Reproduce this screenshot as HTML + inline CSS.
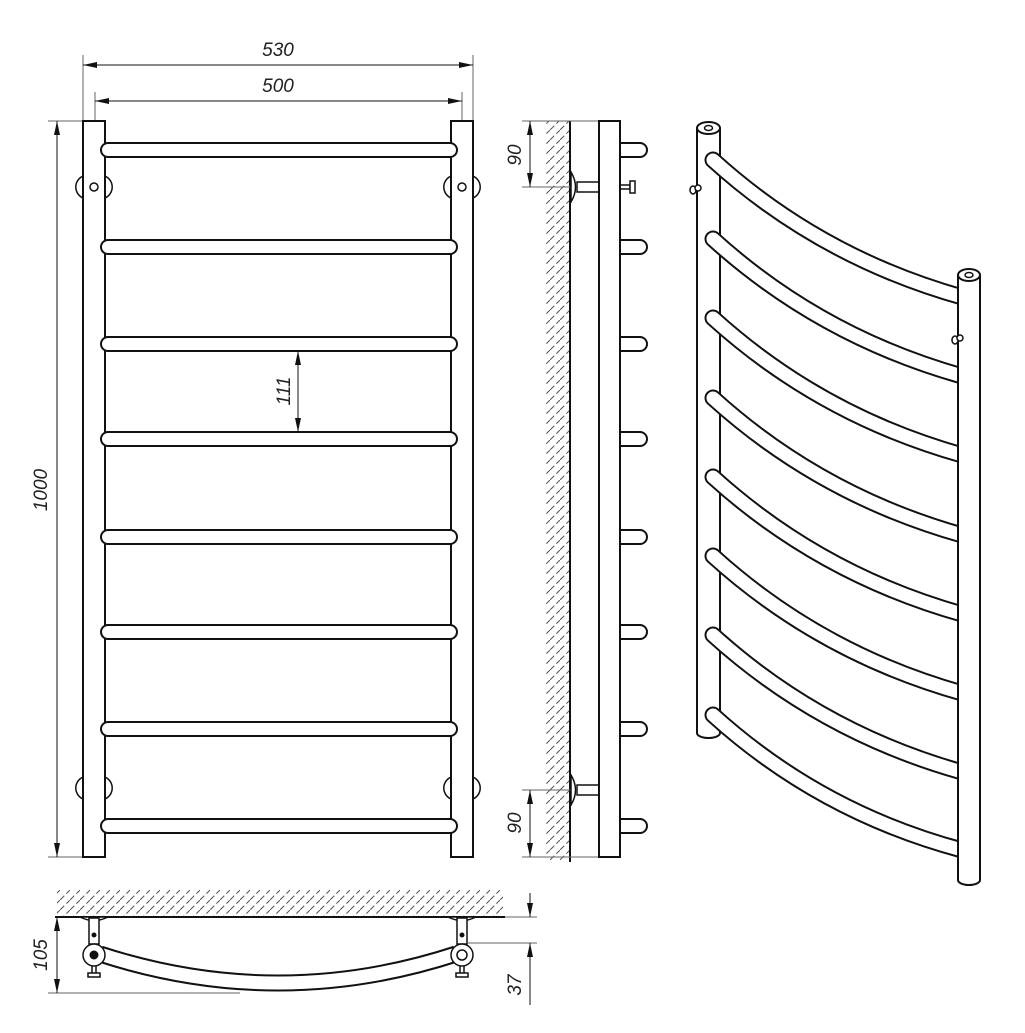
<!DOCTYPE html>
<html><head><meta charset="utf-8"><style>
html,body{margin:0;padding:0;background:#fff}
svg{display:block}
text{font-family:"Liberation Sans",sans-serif;font-style:italic;font-size:19px;fill:#222}
</style></head><body>
<svg width="1025" height="1033" viewBox="0 0 1025 1033" xmlns="http://www.w3.org/2000/svg">
<defs>
<pattern id="h" width="10" height="10" patternUnits="userSpaceOnUse" patternTransform="rotate(0)">
<path d="M0 10 L10 0" stroke="#555" stroke-width="1" stroke-dasharray="6 3"/>
</pattern>
<marker id="a" markerWidth="14" markerHeight="8" refX="14" refY="4" orient="auto" markerUnits="userSpaceOnUse"><path d="M0 1 L14 4 L0 7 Z" fill="#111"/></marker>
<marker id="b" markerWidth="14" markerHeight="8" refX="0" refY="4" orient="auto" markerUnits="userSpaceOnUse"><path d="M14 1 L0 4 L14 7 Z" fill="#111"/></marker>
</defs>
<g stroke="#111" fill="none">
<!-- FRONT VIEW dims -->
<g stroke="#666" stroke-width="1">
<line x1="83" y1="55" x2="83" y2="121"/><line x1="473" y1="55" x2="473" y2="121"/>
<line x1="95" y1="92" x2="95" y2="121"/><line x1="462" y1="92" x2="462" y2="121"/>
<line x1="48" y1="121" x2="83" y2="121"/><line x1="48" y1="857" x2="83" y2="857"/>
</g>
<line x1="83" y1="65" x2="473" y2="65" stroke-width="1" marker-start="url(#b)" marker-end="url(#a)"/>
<line x1="95" y1="101" x2="462" y2="101" stroke-width="1" marker-start="url(#b)" marker-end="url(#a)"/>
<line x1="57" y1="121" x2="57" y2="857" stroke-width="1" marker-start="url(#b)" marker-end="url(#a)"/>
<line x1="298" y1="351" x2="298" y2="432" stroke-width="1" marker-start="url(#b)" marker-end="url(#a)"/>
<!-- posts -->
<rect x="83" y="121" width="22" height="736" fill="#fff" stroke-width="2"/>
<rect x="451" y="121" width="22" height="736" fill="#fff" stroke-width="2"/>
<!-- brackets -->
<g stroke-width="1.5">
<path d="M83 176 A12 12 0 0 0 83 198"/><path d="M105 176 A12 12 0 0 1 105 198"/>
<path d="M451 176 A12 12 0 0 0 451 198"/><path d="M473 176 A12 12 0 0 1 473 198"/>
<path d="M83 777 A12 12 0 0 0 83 799"/><path d="M105 777 A12 12 0 0 1 105 799"/>
<path d="M451 777 A12 12 0 0 0 451 799"/><path d="M473 777 A12 12 0 0 1 473 799"/>
<circle cx="94" cy="187" r="4"/><circle cx="462" cy="187" r="4"/>
</g>
<!-- rungs -->
<g stroke-linecap="round">
<g stroke="#111" stroke-width="16">
<path d="M108 150H450M108 247H450M108 344H450M108 439H450M108 537H450M108 632H450M108 729H450M108 826H450"/>
</g>
<g stroke="#fff" stroke-width="12">
<path d="M108 150H450M108 247H450M108 344H450M108 439H450M108 537H450M108 632H450M108 729H450M108 826H450"/>
</g>
</g>

<!-- SIDE VIEW -->
<rect x="545" y="121" width="25" height="739" fill="url(#h)" stroke="none"/>
<line x1="570" y1="121" x2="570" y2="862" stroke-width="2"/>
<g stroke="#666" stroke-width="1">
<line x1="522" y1="121" x2="599" y2="121"/><line x1="522" y1="187" x2="575" y2="187"/>
<line x1="522" y1="790" x2="575" y2="790"/><line x1="522" y1="857" x2="599" y2="857"/>
</g>
<line x1="530" y1="121" x2="530" y2="187" stroke-width="1" marker-start="url(#b)" marker-end="url(#a)"/>
<line x1="530" y1="790" x2="530" y2="857" stroke-width="1" marker-start="url(#b)" marker-end="url(#a)"/>
<g stroke-width="1.5" fill="#fff">
<path d="M571 172 Q580 187 571 202Z"/><rect x="577" y="182" width="22" height="10"/>
<path d="M571 775 Q580 790 571 805Z"/><rect x="577" y="785" width="22" height="10"/>
<rect x="620" y="185" width="10" height="4"/><rect x="630" y="181" width="5" height="12"/>
</g>
<g stroke-linecap="round">
<g stroke="#111" stroke-width="16"><path d="M618 150H640M618 247H640M618 344H640M618 439H640M618 537H640M618 632H640M618 729H640M618 826H640"/></g>
<g stroke="#fff" stroke-width="12"><path d="M618 150H640M618 247H640M618 344H640M618 439H640M618 537H640M618 632H640M618 729H640M618 826H640"/></g>
</g>
<rect x="599" y="121" width="21" height="736" fill="#fff" stroke-width="2"/>

<!-- BOTTOM VIEW -->
<rect x="57" y="890" width="446" height="27" fill="url(#h)" stroke="none"/>
<line x1="55" y1="917" x2="505" y2="917" stroke-width="2"/>
<g stroke="#666" stroke-width="1">
<line x1="505" y1="917" x2="537" y2="917"/><line x1="468" y1="943" x2="537" y2="943"/>
<line x1="48" y1="993" x2="240" y2="993"/>
</g>
<line x1="57" y1="917" x2="57" y2="993" stroke-width="1" marker-start="url(#b)" marker-end="url(#a)"/>
<line x1="530" y1="893" x2="530" y2="917" stroke-width="1" marker-end="url(#a)"/>
<line x1="530" y1="1005" x2="530" y2="943" stroke-width="1" marker-end="url(#a)"/>
<g stroke-linecap="butt">
<path d="M100 954 Q278 1012 456 954" stroke="#111" stroke-width="17"/>
<path d="M100 954 Q278 1012 456 954" stroke="#fff" stroke-width="13"/>
</g>
<g stroke-width="1.5" fill="#fff">
<path d="M80 917 Q94 924 108 917Z"/><path d="M448 917 Q462 924 476 917Z"/>
<rect x="89" y="918" width="10" height="26"/><rect x="457" y="918" width="10" height="26"/>
<rect x="92" y="964" width="4" height="10"/><rect x="88" y="973" width="12" height="4"/>
<rect x="460" y="964" width="4" height="10"/><rect x="456" y="973" width="12" height="4"/>
<circle cx="94" cy="955" r="11"/><circle cx="462" cy="955" r="11"/>
<circle cx="462" cy="955" r="5"/>
</g>
<circle cx="94" cy="955" r="4" fill="#111"/>
<circle cx="94" cy="935" r="2" fill="#111"/><circle cx="462" cy="935" r="2" fill="#111"/>

<!-- PERSPECTIVE VIEW -->
<path d="M697 128 V733 A11.5 5 0 0 0 720 733 V128" fill="#fff" stroke-width="2"/>
<ellipse cx="708.5" cy="128" rx="11.5" ry="6" fill="#fff" stroke-width="2"/>
<ellipse cx="708.5" cy="128" rx="4" ry="2.5" stroke-width="1.5"/>
<g stroke-width="1.5" fill="#fff"><ellipse cx="693" cy="190" rx="3" ry="4"/><ellipse cx="698" cy="188" rx="3" ry="3"/></g>
<g stroke-linecap="round" fill="none">
<g stroke="#111" stroke-width="17">
<path d="M713 160 Q820 257 962 297"/><path d="M713 239 Q820 336 962 376"/><path d="M713 318 Q820 415 962 455"/><path d="M713 398 Q820 495 962 535"/>
<path d="M713 477 Q820 574 962 614"/><path d="M713 556 Q820 653 962 693"/><path d="M713 635 Q820 732 962 772"/><path d="M713 715 Q820 812 962 850"/>
</g>
<g stroke="#fff" stroke-width="13">
<path d="M713 160 Q820 257 962 297"/><path d="M713 239 Q820 336 962 376"/><path d="M713 318 Q820 415 962 455"/><path d="M713 398 Q820 495 962 535"/>
<path d="M713 477 Q820 574 962 614"/><path d="M713 556 Q820 653 962 693"/><path d="M713 635 Q820 732 962 772"/><path d="M713 715 Q820 812 962 850"/>
</g>
</g>
<path d="M958 275 V880 A11 5 0 0 0 980 880 V275" fill="#fff" stroke-width="2"/>
<ellipse cx="969" cy="275" rx="11" ry="6" fill="#fff" stroke-width="2"/>
<ellipse cx="969" cy="275" rx="4" ry="2.5" stroke-width="1.5"/>
<g stroke-width="1.5" fill="#fff"><ellipse cx="955" cy="340" rx="3" ry="4"/><ellipse cx="960" cy="338" rx="3" ry="3"/></g>
</g>
<text x="278" y="56" text-anchor="middle">530</text>
<text x="278" y="92" text-anchor="middle">500</text>
<text transform="translate(47,490) rotate(-90)" text-anchor="middle">1000</text>
<text transform="translate(290,391) rotate(-90)" text-anchor="middle">111</text>
<text transform="translate(521,155) rotate(-90)" text-anchor="middle">90</text>
<text transform="translate(521,823) rotate(-90)" text-anchor="middle">90</text>
<text transform="translate(47,955) rotate(-90)" text-anchor="middle">105</text>
<text transform="translate(521,985) rotate(-90)" text-anchor="middle">37</text>
</svg>
</body></html>
